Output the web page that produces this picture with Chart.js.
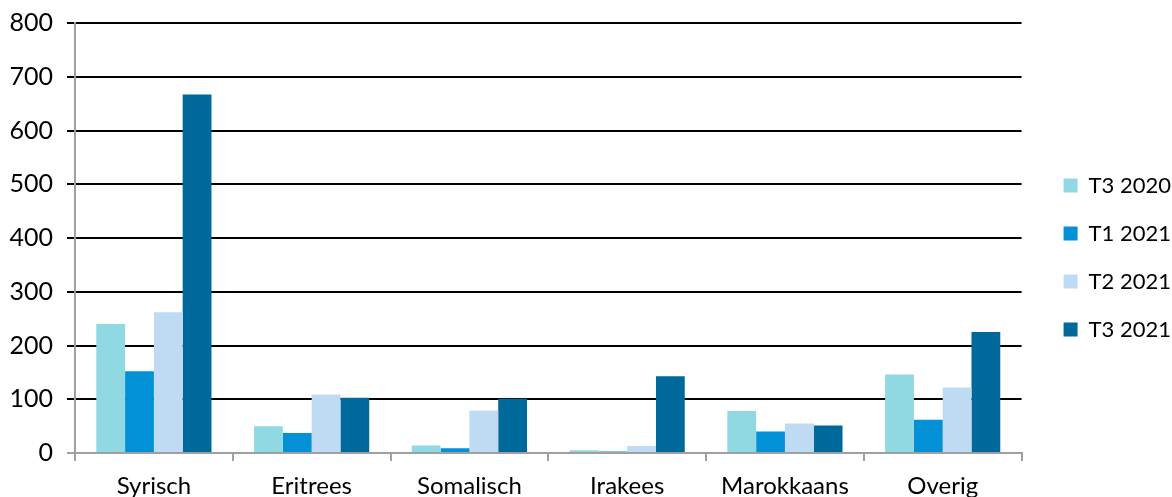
<!DOCTYPE html>
<html>
<head>
<meta charset="utf-8">
<script src="https://cdn.jsdelivr.net/npm/chart.js@4.4.0/dist/chart.umd.min.js"></script>
<style>
  html, body { margin: 0; padding: 0; background: #fff; }
  #wrap { width: 1172px; height: 497px; position: relative; }
</style>
</head>
<body>
<div id="wrap"><canvas id="myChart"></canvas></div>
<script>
const categories = ["Syrisch", "Eritrees", "Somalisch", "Irakees", "Marokkaans", "Overig"];
const seriesNames = ["T3 2020", "T1 2021", "T2 2021", "T3 2021"];
const t3_2020 = [240, 50, 14, 5, 78, 146];
const t1_2021 = [152, 37, 9, 3, 40, 62];
const t2_2021 = [262, 109, 79, 13, 55, 122];
const t3_2021 = [667, 103, 101, 143, 51, 225];
const colors = ["#90D9E2", "#0290D7", "#BFDBF3", "#00699C"];

const allSeries = [t3_2020, t1_2021, t2_2021, t3_2021];
const FONT = "Lato";

const ctx = document.getElementById("myChart");
new Chart(ctx, {
  type: "bar",
  data: {
    labels: categories,
    datasets: allSeries.map((vals, i) => ({
      label: seriesNames[i],
      data: vals,
      backgroundColor: colors[i],
      borderWidth: 0,
      barPercentage: 1,
      categoryPercentage: 0.73,
    })),
  },
  options: {
    responsive: true,
    maintainAspectRatio: false,
    animation: false,
    layout: { padding: { top: 4, left: 0, right: -9, bottom: -14 } },
    plugins: {
      tooltip: { enabled: false },
      legend: {
        position: "right",
        align: "center",
        labels: {
          color: "#000",
          font: { family: FONT, size: 22 },
          boxWidth: 14,
          boxHeight: 14,
          padding: 26,
        },
      },
    },
    scales: {
      x: {
        offset: true,
        grid: {
          display: true,
          offset: true,
          drawOnChartArea: false,
          drawTicks: true,
          tickLength: 8,
          color: "#A0A0A0",
          lineWidth: 2,
        },
        border: { color: "#A0A0A0", width: 2 },
        ticks: {
          color: "#000",
          font: { family: FONT, size: 24 },
          padding: 11,
          maxRotation: 0,
        },
        afterFit(scale) { scale.height = 58; },
      },
      y: {
        min: 0,
        max: 800,
        grid: {
          color: (c) => (c.tick && c.tick.value === 0 ? "#A0A0A0" : "#000"),
          lineWidth: 2,
          tickLength: 8,
        },
        border: { color: "#A0A0A0", width: 2 },
        ticks: {
          stepSize: 100,
          color: "#000",
          font: { family: FONT, size: 25, lineHeight: 0.72 },
          padding: 14,
        },
        afterFit(scale) { scale.width = 75; },
      },
      // empty spacer between plot and legend
      gap: {
        position: "right",
        display: true,
        grid: { display: false },
        border: { display: false },
        ticks: { display: false },
        afterFit(scale) { scale.width = 16; },
      },
    },
  },
});
</script>
</body>
</html>
